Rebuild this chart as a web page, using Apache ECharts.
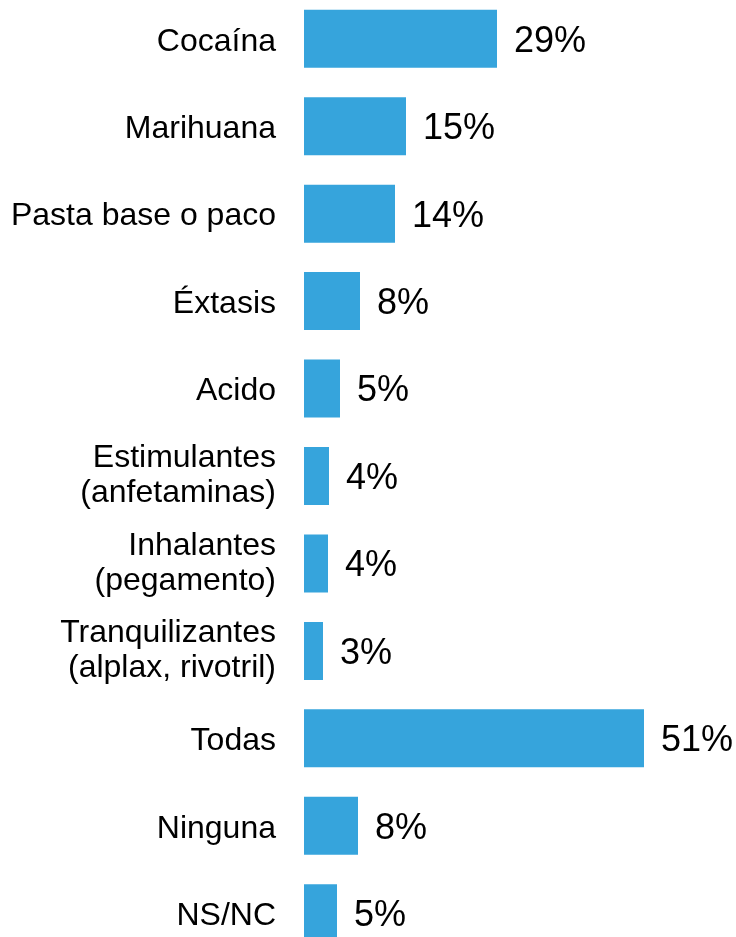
<!DOCTYPE html>
<html>
<head>
<meta charset="utf-8">
<script src="https://cdn.jsdelivr.net/npm/echarts@6/dist/echarts.min.js"></script>
<style>
html,body{margin:0;padding:0;background:#fff;overflow:hidden;width:736px;height:937px;}
#chart{width:736px;height:962px;margin-top:-5px;}
</style>
</head>
<body>
<div id="chart"></div>
<script>
const categories = [
  "Cocaína",
  "Marihuana",
  "Pasta base o paco",
  "Éxtasis",
  "Acido",
  "Estimulantes\n(anfetaminas)",
  "Inhalantes\n(pegamento)",
  "Tranquilizantes\n(alplax, rivotril)",
  "Todas",
  "Ninguna",
  "NS/NC"
];
const values = [28.95, 15.3, 13.65, 8.4, 5.4, 3.75, 3.6, 2.85, 51, 8.1, 4.95];

const FONT = "Arial, 'Liberation Sans', sans-serif";
const chart = echarts.init(document.getElementById('chart'), null, {renderer: 'canvas'});
chart.setOption({
  animation: false,
  backgroundColor: '#ffffff',
  textStyle: {fontFamily: FONT},
  grid: {left: 304, right: 92, top: 0, bottom: 0, containLabel: false},
  xAxis: {
    type: 'value', min: 0, max: 51, show: false
  },
  yAxis: {
    type: 'category', data: categories, inverse: true,
    axisLine: {show: false}, axisTick: {show: false}, splitLine: {show: false},
    axisLabel: {
      margin: 28, color: '#000', fontSize: 32, align: 'right',
      fontFamily: FONT,
      formatter: v => {
        const lines = v.split('\n');
        if (lines.length === 1) return '{a|' + v + '}';
        return lines.map(l => '{b|' + l + '}').join('\n');
      },
      rich: {
        a: {fontSize: 32, lineHeight: 26, padding: [6, 0, 0, 0], color: '#000', fontFamily: FONT, align: 'right'},
        b: {fontSize: 32, lineHeight: 35, color: '#000', fontFamily: FONT, align: 'right'}
      }
    }
  },
  series: [{
    type: 'bar', data: values, barWidth: 58,
    itemStyle: {color: '#36a4dc'},
    label: {
      show: true, position: 'right', distance: 17, color: '#000', fontSize: 36,
      offset: [0, 3],
      fontFamily: FONT,
      formatter: p => Math.round(p.value) + '%'
    }
  }]
});
</script>
</body>
</html>
